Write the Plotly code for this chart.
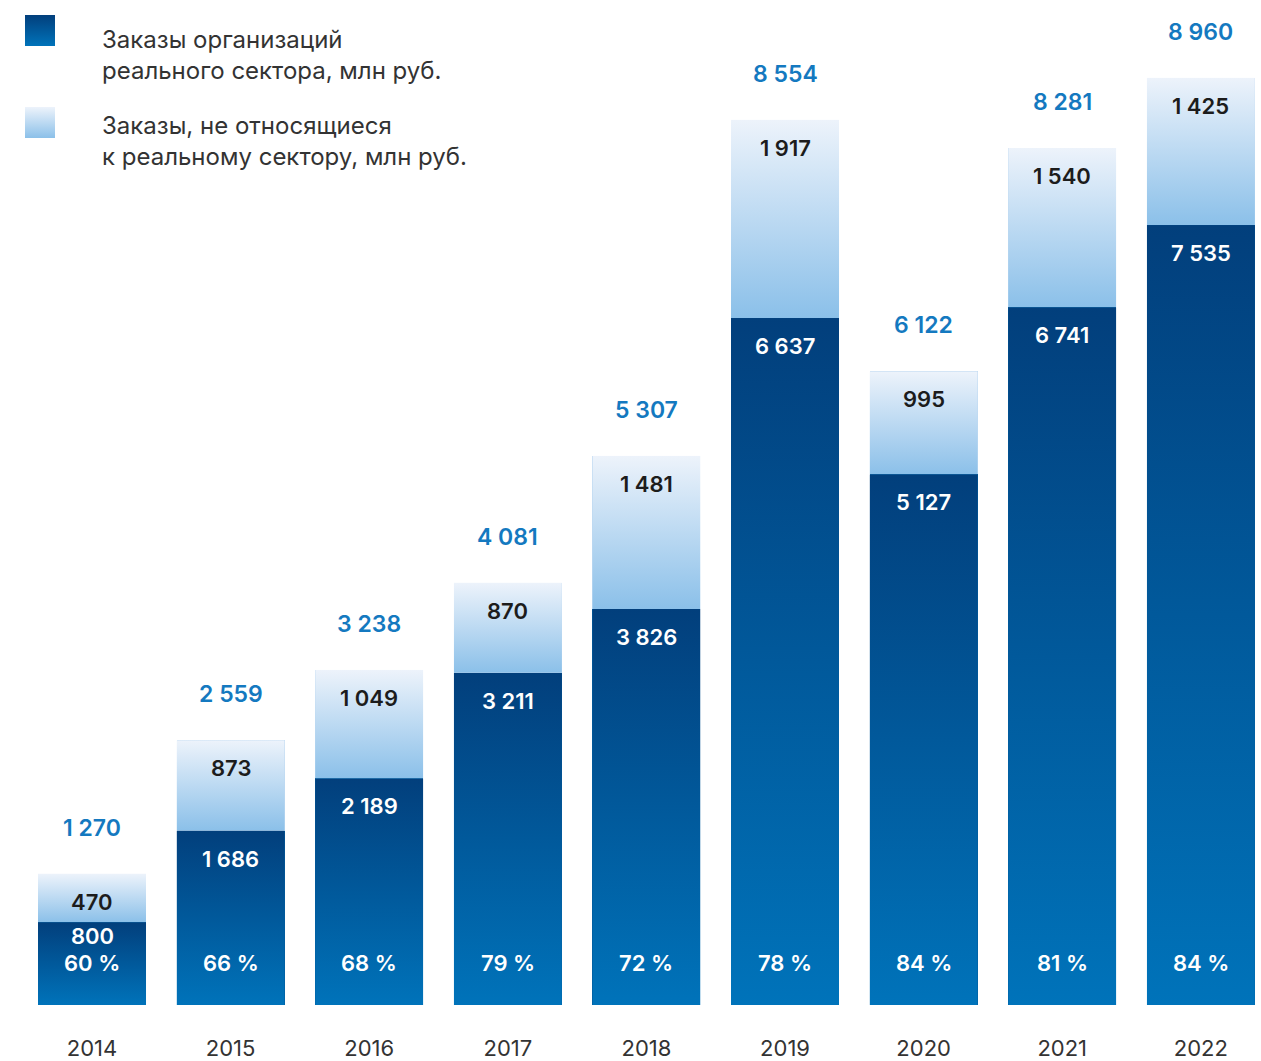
import base64
import plotly.graph_objects as go

years = ["2014", "2015", "2016", "2017", "2018", "2019", "2020", "2021", "2022"]
real_sector = [800, 1686, 2189, 3211, 3826, 6637, 5127, 6741, 7535]
non_real = [470, 873, 1049, 870, 1481, 1917, 995, 1540, 1425]
totals = [1270, 2559, 3238, 4081, 5307, 8554, 6122, 8281, 8960]
shares = [60, 66, 68, 79, 72, 78, 84, 81, 84]

FONT = "Inter"
DARK_TOP, DARK_BOT = "#023f7c", "#0073ba"
LIGHT_TOP, LIGHT_BOT = "#edf3fb", "#8bc0e9"
TOTAL_COLOR = "#1479c0"
BAR_W = 0.78
PLOT_H = 1005
Y_MAX = 9710
PX_PER_UNIT = PLOT_H / Y_MAX


def grad_uri(top, bot):
    svg = (
        '<svg xmlns="http://www.w3.org/2000/svg" width="10" height="100" '
        'viewBox="0 0 10 100" preserveAspectRatio="none">'
        '<defs><linearGradient id="g" x1="0" y1="0" x2="0" y2="1">'
        f'<stop offset="0" stop-color="{top}"/><stop offset="1" stop-color="{bot}"/>'
        '</linearGradient></defs><rect width="10" height="100" fill="url(#g)"/></svg>'
    )
    return "data:image/svg+xml;base64," + base64.b64encode(svg.encode()).decode()


def fmt(v):
    return f"{v:,}".replace(",", "\u00a0")


DARK_IMG = grad_uri(DARK_TOP, DARK_BOT)
LIGHT_IMG = grad_uri(LIGHT_TOP, LIGHT_BOT)

fig = go.Figure()
fig.add_trace(go.Bar(x=years, y=real_sector, marker=dict(color="#005a9c", line=dict(width=0)),
                     name="Заказы организаций реального сектора, млн руб.", hoverinfo="skip"))
fig.add_trace(go.Bar(x=years, y=non_real, marker=dict(color="#bcd8f1", line=dict(width=0)),
                     name="Заказы, не относящиеся к реальному сектору, млн руб.", hoverinfo="skip"))

images = []
annotations = []
for i, y in enumerate(years):
    d, l, t, s = real_sector[i], non_real[i], totals[i], shares[i]
    top_total = d + l
    images.append(dict(source=DARK_IMG, xref="x", yref="y", x=i - BAR_W / 2, y=d,
                       sizex=BAR_W, sizey=d, xanchor="left", yanchor="top",
                       sizing="stretch", layer="above"))
    images.append(dict(source=LIGHT_IMG, xref="x", yref="y", x=i - BAR_W / 2, y=top_total,
                       sizex=BAR_W, sizey=l, xanchor="left", yanchor="top",
                       sizing="stretch", layer="above"))
    annotations.append(dict(x=i, y=top_total, text=fmt(t), showarrow=False, yshift=46,
                            font=dict(family=FONT, size=23, color=TOTAL_COLOR, weight=600)))
    annotations.append(dict(x=i, y=top_total, text=fmt(l), showarrow=False, yshift=-28,
                            font=dict(family=FONT, size=22, color="#1c1c1c", weight=600)))
    # dark-segment value: near the segment top, but kept clear of the share label
    dark_px = d * PX_PER_UNIT - 28
    dshift = max(dark_px, 69) - d * PX_PER_UNIT
    annotations.append(dict(x=i, y=d, text=fmt(d), showarrow=False, yshift=dshift,
                            font=dict(family=FONT, size=22, color="white", weight=600)))
    annotations.append(dict(x=i, y=0, text=f"{s} %", showarrow=False, yshift=42,
                            font=dict(family=FONT, size=22, color="white", weight=600)))

# legend
leg = [(15, DARK_IMG, "Заказы организаций<br>реального сектора, млн руб.", 55),
       (107, LIGHT_IMG, "Заказы, не относящиеся<br>к реальному сектору, млн руб.", 141)]
for top_px, img, txt, cy in leg:
    images.append(dict(source=img, xref="paper", yref="paper", x=25 / 1261, y=1 - top_px / PLOT_H,
                       sizex=30 / 1261, sizey=31 / PLOT_H, xanchor="left", yanchor="top",
                       sizing="stretch", layer="above"))
    annotations.append(dict(xref="paper", yref="paper", x=100 / 1261, y=1 - cy / PLOT_H,
                            text=txt, showarrow=False, xanchor="left", yanchor="middle",
                            align="left",
                            font=dict(family=FONT, size=24, color="#333333")))

fig.update_layout(
    width=1261, height=1061,
    barmode="stack", bargap=1 - BAR_W,
    margin=dict(l=0, r=0, t=0, b=1061 - PLOT_H),
    paper_bgcolor="white", plot_bgcolor="white",
    showlegend=False,
    images=images, annotations=annotations,
    font=dict(family=FONT),
    xaxis=dict(type="category", range=[-0.664, 8.434], showgrid=False, zeroline=False,
               showline=False, ticks="", ticklabelstandoff=28,
               tickfont=dict(family=FONT, size=22, color="#333333")),
    yaxis=dict(range=[0, Y_MAX], visible=False, showgrid=False, zeroline=False),
)

fig.write_html("out.html")
